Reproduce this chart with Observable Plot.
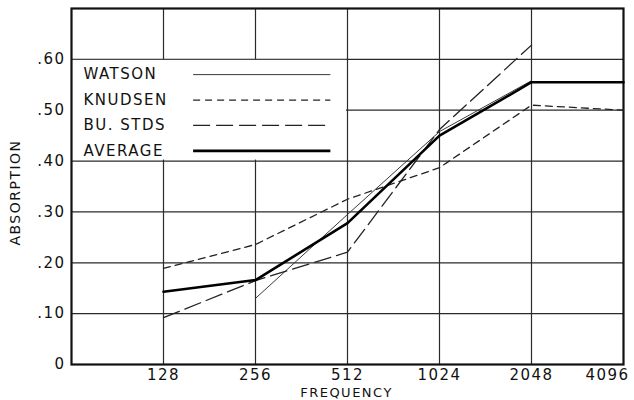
<!DOCTYPE html>
<html><head><meta charset="utf-8">
<script src="https://cdn.jsdelivr.net/npm/d3@7"></script>
<script src="https://cdn.jsdelivr.net/npm/@observablehq/plot@0.6"></script>
<style>
html,body{margin:0;padding:0;background:#fff;}
</style>
</head><body><div id="chart"></div>
<script>
// ---- data ----
const frequencies = [128, 256, 512, 1024, 2048, 4096];
const watson  = [null, 0.130, 0.295, 0.458, 0.558, null];
const knudsen = [0.189, 0.236, 0.325, 0.387, 0.510, 0.500];
const buStds  = [0.092, 0.165, 0.221, 0.462, 0.628, null];
const average = [0.143, 0.166, 0.278, 0.450, 0.555, 0.555];
const seriesNames = ["WATSON", "KNUDSEN", "BU. STDS", "AVERAGE"];
const yTicks = [0, 0.1, 0.2, 0.3, 0.4, 0.5, 0.6];
const xTicks = [128, 256, 512, 1024, 2048, 4096];

// ---- styling (kept apart from data) ----
const seriesValues = [watson, knudsen, buStds, average];
const styles = [
  {stroke: "#3a3a3a", strokeWidth: 1.0, strokeDasharray: null},
  {stroke: "#222", strokeWidth: 1.3, strokeDasharray: "7,5"},
  {stroke: "#222", strokeWidth: 1.3, strokeDasharray: "17,6"},
  {stroke: "#000", strokeWidth: 2.6, strokeDasharray: null}
];

const rows = [];
seriesNames.forEach((name, s) => {
  seriesValues[s].forEach((v, i) => {
    if (v != null) rows.push({series: name, f: frequencies[i], v});
  });
});

const xDomain = [64, 4096];
const yDomain = [0, 0.7];
const legendRows = seriesNames.map((name, i) => ({name, i, ly: 0.57 - i * 0.05}));

const marks = [
  Plot.gridX(xTicks.slice(0, -1), {stroke: "#2a2a2a", strokeOpacity: 1, strokeWidth: 1.2}),
  Plot.gridY(yTicks.slice(1), {stroke: "#2a2a2a", strokeOpacity: 1, strokeWidth: 1.2}),
  // legend panel (white box bounded by grid lines)
  Plot.rect([0], {x1: xDomain[0], x2: xTicks[2], y1: yTicks[4], y2: yTicks[6], fill: "white",
    insetLeft: 1, insetRight: 1, insetTop: 1, insetBottom: 1}),
  Plot.frame({stroke: "#111", strokeWidth: 2.2}),
];

seriesNames.forEach((name, s) => {
  const st = styles[s];
  marks.push(Plot.line(rows.filter(d => d.series === name), {
    x: "f", y: "v", stroke: st.stroke, strokeWidth: st.strokeWidth,
    strokeDasharray: st.strokeDasharray, strokeLinejoin: "miter"
  }));
  marks.push(Plot.link(legendRows.filter(d => d.name === name), {
    x1: 160, x2: 450, y1: "ly", y2: "ly", stroke: st.stroke, strokeWidth: st.strokeWidth,
    strokeDasharray: st.strokeDasharray
  }));
});

marks.push(
  Plot.text(legendRows, {x: xDomain[0], y: "ly", text: "name", textAnchor: "start", dx: 12,
    fill: "#111", fontSize: 15}),
  Plot.axisY(yTicks, {tickSize: 0, tickPadding: 6, label: null, fontSize: 15, fill: "#111",
    tickFormat: d => d === 0 ? "0" : d3.format(".2f")(d).replace("0.", ".")}),
  Plot.axisX(xTicks.slice(0, -1), {tickSize: 0, tickPadding: 5, label: null, fontSize: 15, fill: "#111",
    tickFormat: d => String(d)}),
  Plot.axisX(xTicks.slice(-1), {tickSize: 0, tickPadding: 5, label: null, fontSize: 15, fill: "#111",
    dx: -16, tickFormat: d => String(d)}),
  Plot.text(["FREQUENCY"], {frameAnchor: "bottom", lineAnchor: "middle", textAnchor: "middle",
    dy: 28, dx: -1, text: d => d, fontSize: 13, fill: "#111", style: "letter-spacing:2px"}),
  Plot.text(["ABSORPTION"], {frameAnchor: "left", textAnchor: "middle", lineAnchor: "middle",
    dx: -56, dy: 6, rotate: -90, text: d => d, fontSize: 14, fill: "#111"})
);

const chart = Plot.plot({
  width: 634,
  height: 400,
  marginLeft: 71,
  marginRight: 11,
  marginTop: 8,
  marginBottom: 36,
  x: {type: "log", base: 2, domain: xDomain},
  y: {domain: yDomain},
  style: {fontFamily: "DejaVu Sans", fontSize: "15px", letterSpacing: "1.5px", background: "white", color: "#111"},
  marks
});
document.getElementById("chart").appendChild(chart);
</script>
</body></html>
